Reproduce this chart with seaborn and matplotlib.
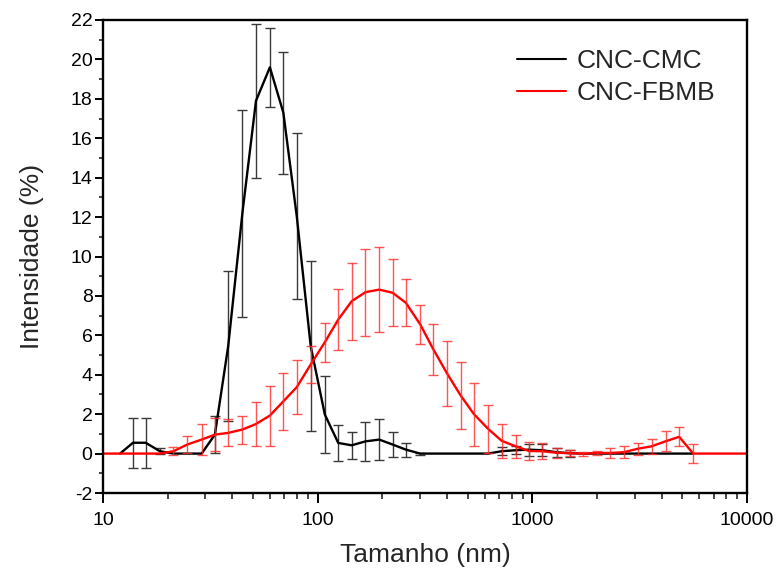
import numpy as np
import pandas as pd
import matplotlib
matplotlib.use("Agg")
import matplotlib.pyplot as plt
import seaborn as sns
from matplotlib.ticker import FixedLocator, MultipleLocator, NullFormatter

# ---- data ----
sizes = [12.0, 13.8, 15.8, 18.4, 21.3, 24.7, 28.8, 33.2, 38.3, 44.6,
         51.6, 59.9, 69.2, 79.9, 92.8, 108, 124.7, 144, 167, 193.6,
         223.4, 257.6, 300.6, 345.4, 401.4, 463.5, 534.6, 623, 719.5, 835.6,
         964, 1112, 1297, 1496, 1726, 1993, 2298, 2672, 3113, 3595,
         4192, 4834, 5617]

cmc_int = [0, 0.55, 0.55, 0.12, 0, 0, 0, 0.96, 5.45, 12.2,
           17.9, 19.6, 17.3, 12.05, 5.45, 1.98, 0.54, 0.42, 0.62, 0.71,
           0.46, 0.2, 0, 0, 0, 0, 0, 0, 0.12, 0.17,
           0.2, 0.17, 0.07, 0.02, 0, 0, 0, 0, 0, 0,
           0, 0, 0]
cmc_err = [0, 1.27, 1.27, 0.15, 0, 0, 0, 0.95, 3.8, 5.25,
           3.9, 2.0, 3.1, 4.2, 4.3, 1.95, 0.93, 0.7, 1.0, 1.05,
           0.65, 0.35, 0.05, 0, 0, 0, 0, 0, 0.2, 0.2,
           0.3, 0.3, 0.22, 0.18, 0, 0, 0, 0, 0, 0,
           0, 0, 0]

fbmb_int = [0, 0, 0, 0, 0.12, 0.46, 0.71, 0.96, 1.05, 1.22,
            1.5, 1.93, 2.65, 3.37, 4.52, 5.65, 6.8, 7.73, 8.19, 8.32,
            8.16, 7.65, 6.55, 5.3, 4.05, 2.95, 2.0, 1.25, 0.65, 0.37,
            0.13, 0.12, 0.04, 0.02, 0, 0.03, 0.03, 0.07, 0.25, 0.37,
            0.63, 0.85, 0]
fbmb_err = [0, 0, 0, 0, 0.2, 0.45, 0.8, 0.85, 0.68, 0.71,
            1.1, 1.52, 1.45, 1.37, 0.93, 1.0, 1.55, 1.95, 2.2, 2.15,
            1.7, 1.2, 0.97, 1.3, 1.65, 1.7, 1.6, 1.2, 0.85, 0.59,
            0.48, 0.4, 0.25, 0.15, 0.1, 0.1, 0.23, 0.3, 0.3, 0.38,
            0.5, 0.48, 0.5]

# the red curve runs along zero from the left to the right edge of the axis
edge_sizes = [10, 10000]
edge_int = [0, 0]

series_names = ["CNC-CMC", "CNC-FBMB"]
series_colors = ["#000000", "#ff0000"]
bar_colors = ["#3a3a3a", "#ff2a2a"]

x_ticks = [10, 100, 1000, 10000]
y_ticks = [-2, 0, 2, 4, 6, 8, 10, 12, 14, 16, 18, 20, 22]

# ---- build tables ----
df_cmc = pd.DataFrame({"size": sizes, "int": cmc_int, "err": cmc_err,
                       "serie": series_names[0]})
df_fb = pd.DataFrame({"size": [edge_sizes[0]] + sizes + [edge_sizes[1]],
                      "int": [edge_int[0]] + fbmb_int + [edge_int[1]],
                      "serie": series_names[1]})
df_fb_err = pd.DataFrame({"size": sizes, "int": fbmb_int, "err": fbmb_err})
df_lines = pd.concat([df_cmc[["size", "int", "serie"]], df_fb], ignore_index=True)

sns.set_style("ticks")
plt.rcParams["font.family"] = ["Liberation Sans", "DejaVu Sans"]
plt.rcParams["axes.unicode_minus"] = False

fig = plt.figure(figsize=(7.81, 5.76), dpi=100)
ax = fig.add_axes([103 / 781, 1 - 493 / 576, (747 - 103) / 781, (493 - 20) / 576])

sns.lineplot(data=df_lines, x="size", y="int", hue="serie",
             palette=dict(zip(series_names, series_colors)),
             hue_order=series_names, sort=False, estimator=None,
             linewidth=1.7, ax=ax, legend=True)

# error bars
m = df_cmc["err"] > 0
ax.errorbar(df_cmc.loc[m, "size"], df_cmc.loc[m, "int"], yerr=df_cmc.loc[m, "err"],
            fmt="none", ecolor=bar_colors[0], elinewidth=1.0, capsize=3.5,
            capthick=1.0, zorder=1.5)
m2 = df_fb_err["err"] > 0
ax.errorbar(df_fb_err.loc[m2, "size"], df_fb_err.loc[m2, "int"],
            yerr=df_fb_err.loc[m2, "err"], fmt="none", ecolor=bar_colors[1],
            alpha=0.8, elinewidth=1.0, capsize=3.5, capthick=1.0, zorder=2.5)

ax.set_xscale("log")
ax.set_xlim(10, 10000)
ax.set_ylim(-2, 22)
ax.xaxis.set_major_locator(FixedLocator(x_ticks))
ax.set_xticklabels([str(t) for t in x_ticks])
minors = [k * 10 ** e for e in range(1, 4) for k in range(2, 10)]
ax.xaxis.set_minor_locator(FixedLocator(minors))
ax.xaxis.set_minor_formatter(NullFormatter())
ax.yaxis.set_major_locator(FixedLocator(y_ticks))
ax.yaxis.set_minor_locator(MultipleLocator(1))

for s in ax.spines.values():
    s.set_linewidth(1.7)
    s.set_color("black")
    s.set_visible(True)

ax.tick_params(axis="x", which="major", direction="out", length=7, width=1.4,
               labelsize=14, pad=7, colors="black")
ax.tick_params(axis="x", which="minor", direction="out", length=4.5, width=1.2)
ax.tick_params(axis="y", which="major", direction="out", length=5.5, width=1.4,
               labelsize=14, pad=2, colors="black")
ax.tick_params(axis="y", which="minor", direction="out", length=3, width=1.2)
ax.tick_params(top=False, right=False, which="both")

ax.set_xlabel("Tamanho (nm)", fontsize=19, labelpad=10)
ax.set_ylabel("Intensidade (%)", fontsize=19, labelpad=19)

leg = ax.legend(loc="upper left", bbox_to_anchor=((517 - 103) / 644, (493 - 49) / 473),
                frameon=False, borderpad=0, borderaxespad=0,
                fontsize=19, handlelength=1.85, handletextpad=0.4,
                labelspacing=0.3)
for h in leg.get_lines():
    h.set_linewidth(1.5)

fig.savefig("out.png", dpi=100)
